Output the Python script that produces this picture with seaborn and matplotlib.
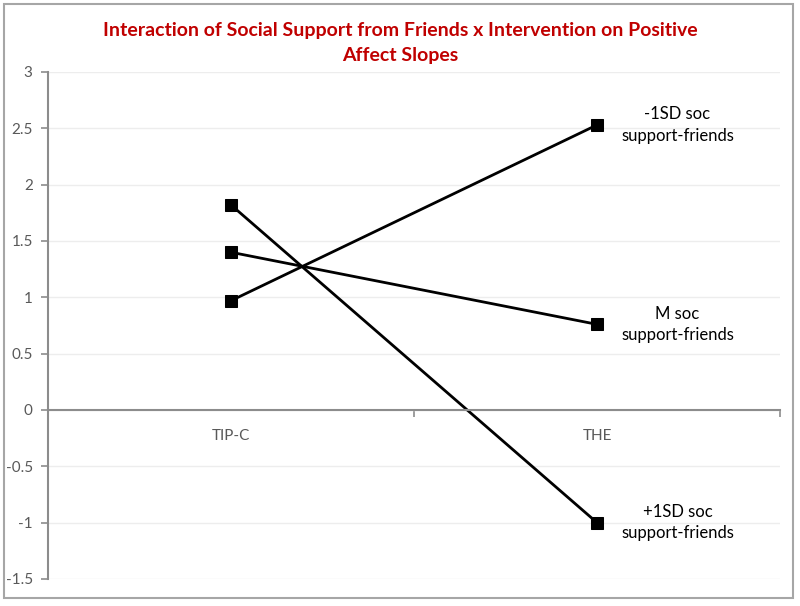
import matplotlib
matplotlib.use("Agg")
import matplotlib.pyplot as plt
import seaborn as sns
import pandas as pd
from matplotlib.patches import Rectangle

# ---- data ----
conditions = ["TIP-C", "THE"]
groups = ["-1SD soc\nsupport-friends", "M soc\nsupport-friends", "+1SD soc\nsupport-friends"]
low_sd = [0.97, 2.53]
mean_sd = [1.40, 0.76]
high_sd = [1.82, -1.00]
yticks = [-1.5, -1, -0.5, 0, 0.5, 1, 1.5, 2, 2.5, 3]
ytick_labels = ["-1.5", "-1", "-0.5", "0", "0.5", "1", "1.5", "2", "2.5", "3"]
title = "Interaction of Social Support from Friends x Intervention on Positive\nAffect Slopes"

rows = []
for g, vals in zip(groups, [low_sd, mean_sd, high_sd]):
    for c, v in zip(conditions, vals):
        rows.append({"condition": c, "value": v, "group": g})
df = pd.DataFrame(rows)

sns.set_theme(style="white")
plt.rcParams["font.family"] = ["Lato", "DejaVu Sans"]

fig = plt.figure(figsize=(8, 6.06), dpi=100)
ax = fig.add_axes([0.06, 0.0446, 0.915, 0.8366])

sns.lineplot(data=df, x="condition", y="value", hue="group",
             palette=["black"] * 3, marker="s", markersize=8,
             markeredgecolor="black", linewidth=2, legend=False, ax=ax)

ax.set_xlim(-0.5, 1.5)
ax.set_ylim(-1.5, 3)
ax.set_yticks(yticks)
ax.set_yticklabels(ytick_labels)
ax.yaxis.grid(True, color="#ededed", linewidth=1)
ax.set_axisbelow(True)
ax.set_xlabel("")
ax.set_ylabel("")

for s in ["top", "right"]:
    ax.spines[s].set_visible(False)
ax.spines["left"].set_color("#8c8c8c")
ax.spines["left"].set_linewidth(1.5)
ax.spines["bottom"].set_position(("data", 0))
ax.spines["bottom"].set_color("#8c8c8c")
ax.spines["bottom"].set_linewidth(1.5)

ax.tick_params(axis="y", which="major", left=True, length=5, width=1.2,
               color="#8c8c8c", labelcolor="#595959", labelsize=11, pad=6)
ax.set_xticks([0, 1])
ax.set_xticklabels(conditions)
ax.set_xticks([-0.5, 0.5, 1.5], minor=True)
ax.tick_params(axis="x", which="major", bottom=False, length=0,
               labelcolor="#595959", labelsize=11, pad=14)
ax.tick_params(axis="x", which="minor", bottom=True, length=5, width=1.2,
               color="#8c8c8c", direction="out")

# series labels on the right
for g, vals in zip(groups, [low_sd, mean_sd, high_sd]):
    ax.text(1.22, vals[1], g, ha="center", va="center",
            fontsize=12, color="black", linespacing=1.4,
            transform=ax.transData)

fig.text(0.5, 0.929, title, ha="center", va="center", fontsize=14,
         fontweight="bold", color="#C00000", linespacing=1.6)

fig.patches.append(Rectangle((4 / 800, 8 / 606), 789 / 800, 594 / 606,
                             transform=fig.transFigure, fill=False,
                             edgecolor="#a6a6a6", linewidth=1.5))

fig.savefig("out.png", dpi=100)
